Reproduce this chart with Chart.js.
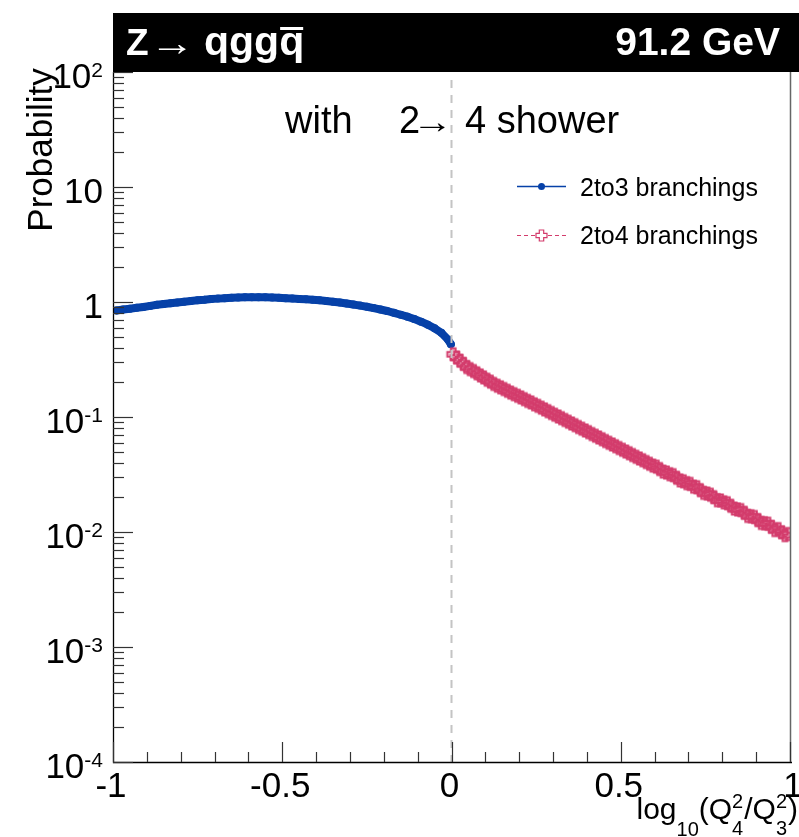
<!DOCTYPE html>
<html><head><meta charset="utf-8">
<script src="https://cdn.jsdelivr.net/npm/chart.js@4.4.1/dist/chart.umd.min.js"></script>
<style>html,body{margin:0;padding:0;background:#fff;}#wrap{width:799px;height:837px;position:relative;}</style>
</head><body><div id="wrap"><canvas id="c" width="799" height="837"></canvas></div>
<script>
// ---- data ----
const seriesNames = ['2to3 branchings', '2to4 branchings'];
const blueX = [-0.99,-0.97,-0.95,-0.93,-0.91,-0.89,-0.87,-0.85,-0.83,-0.81,-0.79,-0.77,-0.75,-0.73,-0.71,-0.69,-0.67,-0.65,-0.63,-0.61,-0.59,-0.57,-0.55,-0.53,-0.51,-0.49,-0.47,-0.45,-0.43,-0.41,-0.39,-0.37,-0.35,-0.33,-0.31,-0.29,-0.27,-0.25,-0.23,-0.21,-0.19,-0.17,-0.15,-0.13,-0.11,-0.09,-0.07,-0.05,-0.03,-0.01,-0.002];
const blueY = [0.845,0.86,0.875,0.89,0.905,0.925,0.945,0.96,0.975,0.99,1.005,1.02,1.035,1.045,1.06,1.07,1.08,1.088,1.095,1.10,1.10,1.10,1.10,1.095,1.09,1.08,1.072,1.064,1.055,1.045,1.035,1.02,1.005,0.99,0.97,0.95,0.93,0.91,0.885,0.86,0.835,0.805,0.775,0.745,0.71,0.675,0.635,0.59,0.54,0.47,0.43];
const pinkX = [0.005,0.015,0.025,0.035,0.045,0.055,0.065,0.075,0.085,0.095,0.105,0.115,0.125,0.135,0.145,0.155,0.165,0.175,0.185,0.195,0.205,0.215,0.225,0.235,0.245,0.255,0.265,0.275,0.285,0.295,0.305,0.315,0.325,0.335,0.345,0.355,0.365,0.375,0.385,0.395,0.405,0.415,0.425,0.435,0.445,0.455,0.465,0.475,0.485,0.495,0.505,0.515,0.525,0.535,0.545,0.555,0.565,0.575,0.585,0.595,0.605,0.615,0.625,0.635,0.645,0.655,0.665,0.675,0.685,0.695,0.705,0.715,0.725,0.735,0.745,0.755,0.765,0.775,0.785,0.795,0.805,0.815,0.825,0.835,0.845,0.855,0.865,0.875,0.885,0.895,0.905,0.915,0.925,0.935,0.945,0.955,0.965,0.975,0.985,0.995];
const pinkY = [0.351,0.329,0.309,0.290,0.272,0.261,0.251,0.240,0.230,0.221,
0.211,0.203,0.194,0.187,0.181,0.175,0.169,0.163,0.158,0.153,
0.148,0.143,0.138,0.134,0.129,0.125,0.1205,0.1164,0.1124,0.1084,
0.1047,0.1011,0.0977,0.0942,0.0910,0.0879,0.0849,0.0818,0.0791,0.0764,
0.0738,0.0711,0.0687,0.0664,0.0641,0.0618,0.0597,0.0577,0.0557,0.0537,
0.0519,0.0501,0.0484,0.0467,0.0451,0.0436,0.0421,0.0406,0.0392,0.0378,
0.0370,0.0353,0.0335,0.0329,0.0318,0.0312,0.0296,0.0281,0.0276,0.0266,
0.0262,0.0248,0.0245,0.0231,0.0219,0.0216,0.0211,0.0201,0.0189,0.0188,
0.0181,0.0178,0.0169,0.0160,0.0157,0.0155,0.0147,0.0138,0.0137,0.0135,
0.0127,0.0120,0.0119,0.0118,0.0111,0.0104,0.0106,0.00995,0.0094,0.0096];
const xTickValues = [-1, -0.5, 0, 0.5, 1];
const xTickLabels = ['-1', '-0.5', '0', '0.5', '1'];
const yTickExps = [-4, -3, -2, -1, 0, 1, 2];
const yTickBase = ['10', '10', '10', '10', '1', '10', '10'];
const yTickSup = ['-4', '-3', '-2', '-1', '', '', '2'];

const BLUE = '#0641a8';
const PINK = '#d33c6c';
const FONT = '"Liberation Sans", Arial, Helvetica, sans-serif';

function crossCanvas(color, lw, r, a, fill) {
  const c = document.createElement('canvas');
  c.width = 17; c.height = 17;
  const g = c.getContext('2d');
  const m = 8.5;
  g.beginPath();
  g.moveTo(m - a, m - r); g.lineTo(m + a, m - r); g.lineTo(m + a, m - a); g.lineTo(m + r, m - a);
  g.lineTo(m + r, m + a); g.lineTo(m + a, m + a); g.lineTo(m + a, m + r); g.lineTo(m - a, m + r);
  g.lineTo(m - a, m + a); g.lineTo(m - r, m + a); g.lineTo(m - r, m - a); g.lineTo(m - a, m - a);
  g.closePath();
  if (fill) { g.fillStyle = fill; g.fill(); }
  g.strokeStyle = color; g.lineWidth = lw; g.stroke();
  return c;
}
const crossImg = crossCanvas(PINK, 1.8, 6, 2.4, 'rgba(211,60,108,0.35)');
const crossLegend = crossCanvas(PINK, 1.2, 5.5, 2.2, null);

function arrowText(ctx, x, y, font, sx) {
  ctx.save();
  ctx.font = font; ctx.textAlign = 'left';
  ctx.translate(x, y); ctx.scale(sx, 1);
  ctx.fillText('\u2192', 0, 0);
  ctx.restore();
}

const decor = {
  id: 'decor',
  afterDatasetsDraw(chart) {
    const ctx = chart.ctx, xs = chart.scales.x, ca = chart.chartArea;
    ctx.save();
    ctx.strokeStyle = '#c4c4c4'; ctx.lineWidth = 2; ctx.setLineDash([8, 7]);
    const x0 = xs.getPixelForValue(0);
    ctx.beginPath(); ctx.moveTo(x0, ca.top + 8); ctx.lineTo(x0, ca.bottom); ctx.stroke();
    ctx.restore();
  },
  afterDraw(chart) {
    const ctx = chart.ctx, xs = chart.scales.x, ys = chart.scales.y, ca = chart.chartArea;
    ctx.save();
    // frame
    ctx.strokeStyle = '#000'; ctx.lineWidth = 1.3;
    ctx.beginPath(); ctx.moveTo(ca.left + 0.5, ca.top); ctx.lineTo(ca.left + 0.5, ca.bottom + 0.5); ctx.lineTo(ca.right + 2, ca.bottom + 0.5); ctx.stroke();
    ctx.strokeStyle = '#666'; ctx.lineWidth = 1.5;
    ctx.beginPath(); ctx.moveTo(ca.right + 0.5, ca.top); ctx.lineTo(ca.right + 0.5, ca.bottom); ctx.stroke();
    // y ticks
    ctx.strokeStyle = '#333'; ctx.lineWidth = 1.2;
    yTickExps.forEach(e => {
      const v = Math.pow(10, e);
      const y = Math.round(ys.getPixelForValue(v)) + 0.5;
      ctx.beginPath(); ctx.moveTo(ca.left, y); ctx.lineTo(ca.left + 20, y); ctx.stroke();
      if (e < 2) {
        for (let k = 2; k <= 9; k++) {
          const ym = Math.round(ys.getPixelForValue(k * v)) + 0.5;
          ctx.beginPath(); ctx.moveTo(ca.left, ym); ctx.lineTo(ca.left + 11, ym); ctx.stroke();
        }
      }
    });
    // x ticks
    for (let i = -10; i <= 10; i++) {
      const x = Math.round(xs.getPixelForValue(i / 10)) + 0.5;
      const len = (i % 5 === 0) ? 20 : 10;
      ctx.beginPath(); ctx.moveTo(x, ca.bottom); ctx.lineTo(x, ca.bottom - len); ctx.stroke();
    }
    // y labels
    ctx.fillStyle = '#000'; ctx.textBaseline = 'alphabetic';
    yTickExps.forEach((e, i) => {
      const y = ys.getPixelForValue(Math.pow(10, e)) + 16;
      const right = 103;
      ctx.font = '21px ' + FONT;
      const sw = yTickSup[i] ? ctx.measureText(yTickSup[i]).width : 0;
      ctx.font = '35px ' + FONT;
      ctx.textAlign = 'right';
      ctx.fillText(yTickBase[i], right - sw, y);
      if (yTickSup[i]) {
        ctx.font = '21px ' + FONT;
        ctx.fillText(yTickSup[i], right, y - 11);
      }
    });
    // x labels
    ctx.font = '35px ' + FONT; ctx.textAlign = 'center';
    xTickValues.forEach((v, i) => {
      const off = (i === xTickValues.length - 1) ? 3 : -2;
      ctx.fillText(xTickLabels[i], xs.getPixelForValue(v) + off, 797);
    });
    // x title: log10(Q4^2/Q3^2)
    const big = '30px ' + FONT, small = '20px ' + FONT;
    const parts = [
      ['log', big, 0], ['10', small, 17], ['(Q', big, 0], ['S2|4', small, 0], ['/Q', big, 0], ['S2|3', small, 0], [')', big, 0]
    ];
    let total = 0;
    parts.forEach(p => {
      ctx.font = p[1];
      total += p[0].startsWith('S') ? ctx.measureText('2').width + 1 : ctx.measureText(p[0]).width;
    });
    let cx = 798 - total; const base = 819;
    ctx.textAlign = 'left';
    parts.forEach(p => {
      ctx.font = p[1];
      if (p[0].startsWith('S')) {
        const [sup, sub] = p[0].slice(1).split('|');
        ctx.fillText(sup, cx, base - 11);
        ctx.fillText(sub, cx, base + 16);
        cx += ctx.measureText('2').width + 1;
      } else {
        ctx.fillText(p[0], cx, base + p[2]);
        cx += ctx.measureText(p[0]).width;
      }
    });
    // y title
    ctx.save();
    ctx.translate(52, 150); ctx.rotate(-Math.PI / 2);
    ctx.font = '35px ' + FONT; ctx.textAlign = 'center';
    ctx.fillText('Probability', 0, 0);
    ctx.restore();
    // header bar
    ctx.fillStyle = '#000';
    ctx.fillRect(ca.left, 13, 799 - ca.left, ca.top - 13);
    ctx.fillStyle = '#fff'; ctx.textAlign = 'left';
    ctx.font = 'bold 37px ' + FONT;
    ctx.fillText('Z', 126, 55);
    arrowText(ctx, 150, 55, '36px ' + FONT, 1.25);
    ctx.font = 'bold 41px ' + FONT;
    ctx.fillText('qgg', 204, 55);
    const w1 = ctx.measureText('qgg').width, wq = ctx.measureText('q').width;
    ctx.fillText('q', 204 + w1, 55);
    ctx.fillRect(204 + w1 + 1, 27, wq - 2, 3);
    ctx.font = 'bold 39px ' + FONT; ctx.textAlign = 'right';
    ctx.fillText('91.2 GeV', 780, 55);
    // inner label
    ctx.fillStyle = '#000'; ctx.font = '38px ' + FONT; ctx.textAlign = 'left';
    ctx.fillText('with', 285, 133);
    ctx.fillText('2', 399, 133);
    arrowText(ctx, 412, 133, '34px ' + FONT, 1.2);
    ctx.fillText('4 shower', 465, 133);
    // legend
    ctx.strokeStyle = BLUE; ctx.lineWidth = 1.3; ctx.setLineDash([]);
    ctx.beginPath(); ctx.moveTo(517, 186.5); ctx.lineTo(566, 186.5); ctx.stroke();
    ctx.fillStyle = BLUE; ctx.beginPath(); ctx.arc(541.5, 186.5, 3.5, 0, Math.PI * 2); ctx.fill();
    ctx.strokeStyle = PINK; ctx.lineWidth = 1; ctx.setLineDash([4, 3]);
    ctx.beginPath(); ctx.moveTo(517, 235.5); ctx.lineTo(535, 235.5); ctx.moveTo(548, 235.5); ctx.lineTo(566, 235.5); ctx.stroke();
    ctx.setLineDash([]);
    ctx.drawImage(crossLegend, 541.5 - 8.5, 235.5 - 8.5);
    ctx.fillStyle = '#000'; ctx.font = '25px ' + FONT; ctx.textAlign = 'left';
    ctx.fillText(seriesNames[0], 580, 196);
    ctx.fillText(seriesNames[1], 580, 244);
    ctx.restore();
  }
};

new Chart(document.getElementById('c'), {
  type: 'scatter',
  data: {
    datasets: [
      {
        label: seriesNames[1],
        data: pinkX.map((x, i) => ({ x, y: pinkY[i] })),
        showLine: true, borderColor: PINK, borderWidth: 1, borderDash: [4, 3],
        pointStyle: crossImg, pointRadius: 8, pointHoverRadius: 8
      },
      {
        label: seriesNames[0],
        data: blueX.map((x, i) => ({ x, y: blueY[i] })),
        showLine: true, borderColor: BLUE, borderWidth: 8, borderCapStyle: 'round', borderJoinStyle: 'round',
        pointStyle: 'circle', pointRadius: 4, pointBackgroundColor: BLUE, pointBorderWidth: 0, pointHoverRadius: 4
      }
    ]
  },
  options: {
    responsive: false, animation: false, devicePixelRatio: 1,
    layout: { padding: { left: 113, right: 2, top: 72, bottom: 75 } },
    scales: {
      x: { type: 'linear', min: -1, max: 1, display: false },
      y: { type: 'logarithmic', min: 1e-4, max: 1e2, display: false }
    },
    plugins: { legend: { display: false }, tooltip: { enabled: false } },
    events: []
  },
  plugins: [decor]
});
</script></body></html>
